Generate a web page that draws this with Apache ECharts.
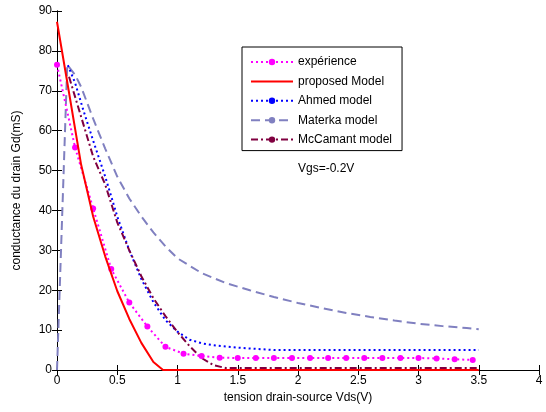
<!DOCTYPE html>
<html><head><meta charset="utf-8">
<script src="https://cdn.jsdelivr.net/npm/echarts@6/dist/echarts.min.js"></script>
<style>html,body{margin:0;padding:0;background:#fff}#c{width:546px;height:412px}</style>
</head><body><div id="c"></div>
<script>
const xTicks = [0, 0.5, 1, 1.5, 2, 2.5, 3, 3.5, 4];
const yTicks = [0, 10, 20, 30, 40, 50, 60, 70, 80, 90];

const expX = [0,0.15,0.3,0.45,0.6,0.75,0.9,1.05,1.2,1.35,1.5,1.65,1.8,1.95,2.1,2.25,2.4,2.55,2.7,2.85,3.0,3.15,3.3,3.45];
const expY = [76.5,55.8,40.5,25.3,16.9,10.9,5.8,4.1,3.5,3.1,3.0,3.0,3.0,3.0,3.0,3.0,3.0,3.0,3.0,3.0,3.0,2.9,2.7,2.5];

const propX = [0,0.1,0.2,0.3,0.4,0.5,0.6,0.7,0.8,0.88,1.5,2,2.5,3,3.5];
const propY = [87.3,69.5,51.5,38.5,28.5,19.8,12.8,6.8,2,0,0,0,0,0,0];

const ahmedX = [0.09,0.15,0.22,0.3,0.4,0.5,0.6,0.7,0.8,0.9,1.0,1.1,1.2,1.3,1.4,1.5,1.6,1.7,1.8,2.0,2.5,3.0,3.5];
const ahmedY = [76.4,72,65,57.5,48.5,38.5,30,22.8,17,12.5,9.6,7.6,6.7,6.2,5.9,5.6,5.4,5.2,5.0,5.0,5.0,5.0,5.0];

const materkaX = [0,0.085,0.15,0.2,0.3,0.4,0.5,0.6,0.7,0.8,0.9,1.0,1.2,1.4,1.6,1.8,2.0,2.2,2.4,2.6,2.8,3.0,3.2,3.4,3.5];
const materkaY = [0,76.5,74,71,63,55.5,48.5,43,38.5,34.5,31,28,24.3,21.8,20,18.3,16.8,15.5,14.3,13.3,12.4,11.6,11.0,10.5,10.2];

const mccX = [0.1,0.2,0.3,0.4,0.5,0.6,0.7,0.8,0.9,1.0,1.1,1.2,1.3,1.4,2.0,2.5,3.0,3.5];
const mccY = [73.5,63.5,53.5,46.5,37,30,23.5,18,13.5,9.5,6,3,1.2,0.5,0.5,0.5,0.5,0.5];

const annotation = 'Vgs=-0.2V';
const FONT = 'Liberation Sans, Arial, sans-serif';

function pairs(xs, ys){ return xs.map((x,i)=>[x, ys[i]]); }

const chart = echarts.init(document.getElementById('c'), null, {renderer:'canvas'});
const axisCommon = {
  axisLine:{show:true, lineStyle:{color:'#000', width:1}},
  axisTick:{show:true, inside:true, length:5, lineStyle:{color:'#000'}},
  splitLine:{show:false}
};
chart.setOption({
  animation:false,
  backgroundColor:'#fff',
  textStyle:{fontFamily:FONT},
  grid:{left:57, right:7, top:11, bottom:42, containLabel:false},
  legend:{
    orient:'vertical', left:242, top:47, width:148,
    backgroundColor:'#fff', borderColor:'#000', borderWidth:1,
    padding:[9,10,5,8], itemGap:7.4, itemWidth:42, itemHeight:8,
    textStyle:{fontFamily:FONT, fontSize:12, color:'#000'},
    data:['expérience',
      {name:'proposed Model', itemStyle:{color:'rgba(0,0,0,0)', borderColor:'rgba(0,0,0,0)', borderWidth:0, opacity:0}},
      'Ahmed model','Materka model','McCamant model']
  },
  graphic:[{type:'text', left:298, top:163, style:{text:annotation, font:'12px '+FONT, fill:'#000'}}],
  xAxis:[
    Object.assign({type:'value', min:0, max:4, interval:0.5, position:'bottom',
      name:'tension drain-source Vds(V)', nameLocation:'middle', nameGap:21,
      nameTextStyle:{fontFamily:FONT, fontSize:12, color:'#000'},
      axisLabel:{fontFamily:FONT, fontSize:12, color:'#000', margin:5, formatter:v=>String(v)}}, axisCommon),
    Object.assign({type:'value', min:0, max:4, interval:0.5, position:'top', axisLabel:{show:false}}, axisCommon)
  ],
  yAxis:[
    Object.assign({type:'value', min:0, max:90, interval:10, position:'left',
      name:'conductance du drain Gd(mS)', nameLocation:'middle', nameGap:34,
      nameTextStyle:{fontFamily:FONT, fontSize:12, color:'#000'},
      axisLabel:{fontFamily:FONT, fontSize:12, color:'#000', margin:5}}, axisCommon),
    Object.assign({type:'value', min:0, max:90, interval:10, position:'right', axisLabel:{show:false}}, axisCommon)
  ],
  series:[
    {name:'expérience', type:'line', data:pairs(expX, expY), symbol:'circle', symbolSize:6,
     itemStyle:{color:'#ff00ff'}, lineStyle:{color:'#ff00ff', width:2, type:[2,3]}, z:5},
    {name:'proposed Model', type:'line', data:pairs(propX, propY), symbol:'none',
     itemStyle:{color:'#ff0000'}, lineStyle:{color:'#ff0000', width:2}, z:6},
    {name:'Ahmed model', type:'line', data:pairs(ahmedX, ahmedY), symbol:'circle', symbolSize:5, showSymbol:false,
     itemStyle:{color:'#0000ff'}, lineStyle:{color:'#0000ff', width:2, type:[2,3]}, z:4},
    {name:'Materka model', type:'line', data:pairs(materkaX, materkaY), symbol:'circle', symbolSize:5, showSymbol:false,
     itemStyle:{color:'#8080c0'}, lineStyle:{color:'#8080c0', width:2, type:[9,5]}, z:3},
    {name:'McCamant model', type:'line', data:pairs(mccX, mccY), symbol:'circle', symbolSize:5, showSymbol:false,
     itemStyle:{color:'#800040'}, lineStyle:{color:'#800040', width:2, type:[7,3,2,3]}, z:4}
  ]
});
</script></body></html>
